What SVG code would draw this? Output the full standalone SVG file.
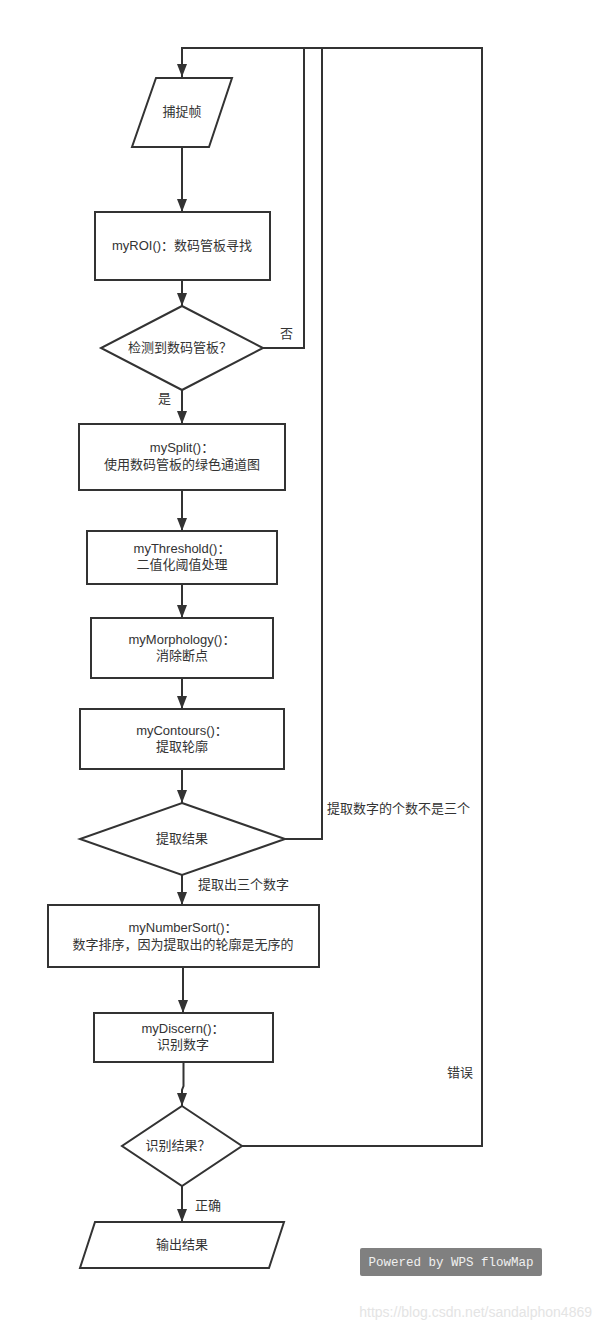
<svg xmlns="http://www.w3.org/2000/svg" width="601" height="1330" viewBox="0 0 601 1330">
<defs>
<marker id="arr" viewBox="0 0 13 10" markerWidth="13" markerHeight="10" refX="13" refY="5" orient="auto" markerUnits="userSpaceOnUse">
<path d="M0,0 L13,5 L0,10 z" fill="#333"/>
</marker>
<style>
.shape{fill:#fff;stroke:#333;stroke-width:2}
.line{fill:none;stroke:#333;stroke-width:2}
.t{font-family:"Liberation Sans","Noto Sans CJK SC",sans-serif;font-size:13px;fill:#333;text-anchor:middle}
.lbl{font-family:"Liberation Sans","Noto Sans CJK SC",sans-serif;font-size:13px;fill:#333}
</style>
</defs>
<rect width="601" height="1330" fill="#fff"/>
<g id="connectors">
<path class="line" d="M263,348 H304 V48 H182 V77" marker-end="url(#arr)"/>
<path class="line" d="M285,839 H322 V48"/>
<path class="line" d="M242,1146 H482 V48 H182"/>
<path class="line" d="M182,147 V212" marker-end="url(#arr)"/>
<path class="line" d="M182,280 V306" marker-end="url(#arr)"/>
<path class="line" d="M182,390 V424" marker-end="url(#arr)"/>
<path class="line" d="M182,490 V531" marker-end="url(#arr)"/>
<path class="line" d="M182,584 V618" marker-end="url(#arr)"/>
<path class="line" d="M182,678 V709" marker-end="url(#arr)"/>
<path class="line" d="M182,769 V803" marker-end="url(#arr)"/>
<path class="line" d="M182,875 V905" marker-end="url(#arr)"/>
<path class="line" d="M183,967 V1013" marker-end="url(#arr)"/>
<path class="line" d="M183.5,1062 V1086 L182,1090 V1106" marker-end="url(#arr)"/>
<path class="line" d="M182,1186 V1222" marker-end="url(#arr)"/>
<text class="lbl" x="280" y="338">否</text>
<text class="lbl" x="158" y="403">是</text>
<text class="lbl" x="327" y="813">提取数字的个数不是三个</text>
<text class="lbl" x="198" y="889">提取出三个数字</text>
<text class="lbl" x="447" y="1077">错误</text>
<text class="lbl" x="195" y="1210">正确</text>
</g>
<g id="capture">
<polygon class="shape" points="156,78 232,78 209,147 132,147"/>
<text class="t" x="182" y="116">捕捉帧</text>
</g>
<g id="myROI">
<rect class="shape" x="95" y="212" width="175" height="68"/>
<text class="t" x="182" y="250">myROI()：数码管板寻找</text>
</g>
<g id="detect">
<polygon class="shape" points="182,306 263,348 182,390 101,348"/>
<text class="t" x="180" y="352">检测到数码管板？</text>
</g>
<g id="mySplit">
<rect class="shape" x="79" y="424" width="206" height="66"/>
<text class="t" x="182" y="452">mySplit()：</text>
<text class="t" x="182" y="469">使用数码管板的绿色通道图</text>
</g>
<g id="myThreshold">
<rect class="shape" x="87" y="531" width="190" height="53"/>
<text class="t" x="182" y="553">myThreshold()：</text>
<text class="t" x="182" y="569">二值化阈值处理</text>
</g>
<g id="myMorphology">
<rect class="shape" x="91" y="618" width="182" height="60"/>
<text class="t" x="182" y="644">myMorphology()：</text>
<text class="t" x="182" y="660">消除断点</text>
</g>
<g id="myContours">
<rect class="shape" x="80" y="709" width="204" height="60"/>
<text class="t" x="182" y="735">myContours()：</text>
<text class="t" x="182" y="751">提取轮廓</text>
</g>
<g id="extract">
<polygon class="shape" points="182,803 285,839 182,875 80,839"/>
<text class="t" x="182" y="843">提取结果</text>
</g>
<g id="myNumberSort">
<rect class="shape" x="48" y="905" width="271" height="62"/>
<text class="t" x="183" y="932">myNumberSort()：</text>
<text class="t" x="183" y="949">数字排序，因为提取出的轮廓是无序的</text>
</g>
<g id="myDiscern">
<rect class="shape" x="94" y="1013" width="179" height="49"/>
<text class="t" x="183" y="1033">myDiscern()：</text>
<text class="t" x="183" y="1049">识别数字</text>
</g>
<g id="recognize">
<polygon class="shape" points="182,1106 242,1146 182,1186 122,1146"/>
<text class="t" x="178" y="1150">识别结果？</text>
</g>
<g id="output">
<polygon class="shape" points="95,1222 284,1222 269,1268 80,1268"/>
<text class="t" x="182" y="1249">输出结果</text>
</g>
<g id="badge">
<rect x="360" y="1248" width="182" height="28" rx="2" fill="#808080"/>
<text x="451" y="1266" font-family="'Liberation Mono',monospace" font-size="12.5" fill="#f0f0f0" text-anchor="middle">Powered by WPS flowMap</text>
</g>
<text x="592" y="1317" font-family="'Liberation Sans',sans-serif" font-size="14" fill="#e4e4e4" text-anchor="end">https://blog.csdn.net/sandalphon4869</text>
</svg>
